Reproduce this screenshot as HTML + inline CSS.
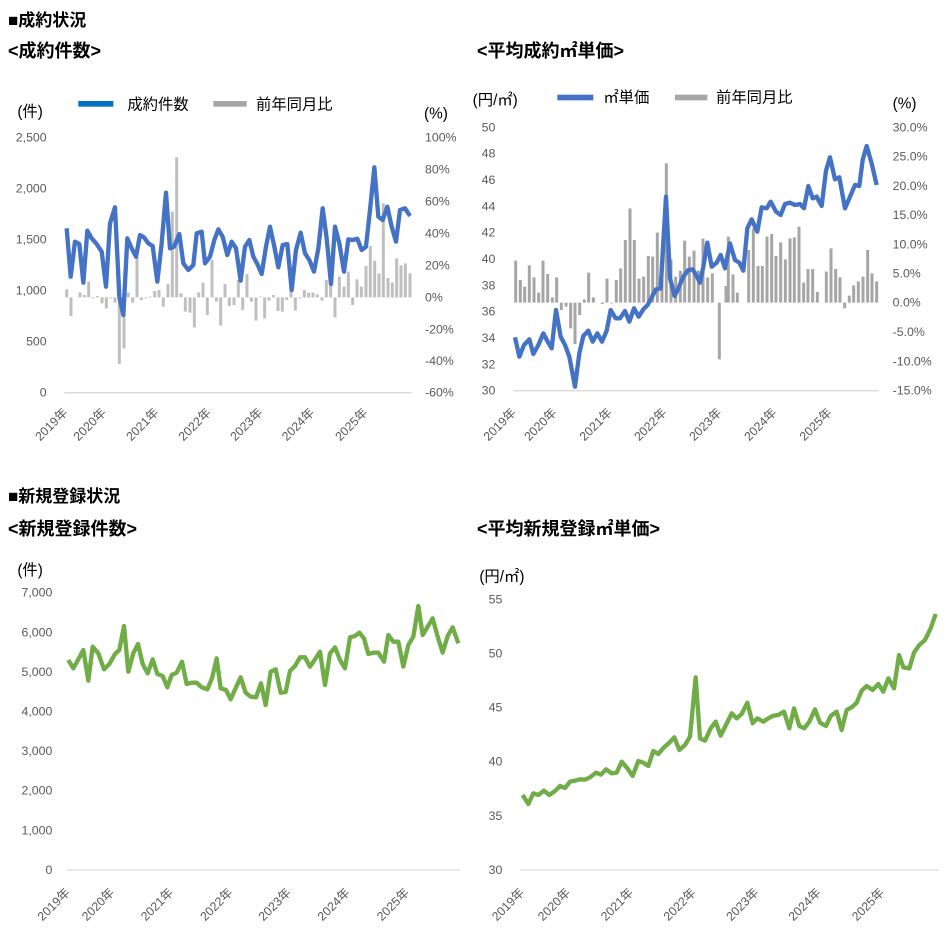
<!DOCTYPE html>
<html><head><meta charset="utf-8"><style>
html,body{margin:0;padding:0;background:#fff}
svg{display:block}
.t{font-family:"Liberation Sans","Noto Sans CJK JP",sans-serif;font-weight:bold;fill:#000}
.a{font-family:"Liberation Sans","Noto Sans CJK JP",sans-serif;fill:#595959;font-size:37px}
.l{font-family:"Liberation Sans","Noto Sans CJK JP",sans-serif;fill:#000;font-size:46px}
</style></head><body>
<svg width="950" height="942" viewBox="0 0 950 942" xmlns="http://www.w3.org/2000/svg">
<text class="t" x="8" y="26" font-size="17">■成約状況</text>
<text class="t" x="8" y="57" font-size="18">&lt;成約件数&gt;</text>
<text class="t" x="477" y="57" font-size="18">&lt;平均成約㎡単価&gt;</text>
<text class="t" x="8" y="502" font-size="17">■新規登録状況</text>
<text class="t" x="8" y="535" font-size="18">&lt;新規登録件数&gt;</text>
<text class="t" x="477" y="535" font-size="18">&lt;平均新規登録㎡単価&gt;</text>

<!-- Chart 1 -->
<g transform="translate(0,80) scale(0.33333)">
<line x1="193" y1="938" x2="1235" y2="938" stroke="#d9d9d9" stroke-width="4"/>
<path fill="none" stroke="#bfbfbf" stroke-width="9" d="M200 628V652M213 708V652M226 652V652M240 637V652M253 645V652M266 605V652M279 655V652M292 648V652M306 670V652M319 685V652M332 655V652M345 668V652M358 852V652M372 805V652M385 638V652M398 668V652M411 530V652M424 660V652M438 655V652M451 650V652M464 633V652M477 630V652M490 680V652M504 612V652M517 395V652M530 232V652M543 640V652M556 695V652M570 698V652M583 742V652M596 637V652M609 608V652M622 705V652M636 540V652M649 665V652M662 737V652M675 612V652M688 678V652M702 675V652M715 600V652M728 690V652M741 582V652M754 665V652M768 722V652M781 650V652M794 716V652M807 662V652M820 645V652M834 693V652M847 695V652M860 660V652M873 632V652M886 692V652M900 655V652M913 630V652M926 638V652M939 638V652M952 643V652M966 662V652M979 600V652M992 615V652M1005 712V652M1018 590V652M1032 620V652M1045 575V652M1058 675V652M1071 598V652M1084 620V652M1098 558V652M1111 498V652M1124 542V652M1137 580V652M1150 370V652M1164 594V652M1177 608V652M1190 535V652M1203 556V652M1216 550V652M1230 580V652"/>
<polyline fill="none" stroke="#4472c4" stroke-width="13" stroke-linejoin="round" points="200,445 212,590 225,485 238,492 250,608 262,452 275,475 290,492 305,515 318,620 330,430 345,382 358,650 370,705 382,475 395,505 408,530 420,465 432,472 445,490 458,498 472,605 485,490 498,338 510,505 522,500 538,462 550,550 565,570 580,555 590,460 605,455 615,550 630,530 643,480 655,448 668,470 682,525 695,485 708,505 722,602 735,500 748,480 760,530 772,552 785,582 798,500 810,440 823,500 835,562 848,495 862,492 875,630 888,510 902,458 915,520 928,540 942,575 955,505 968,385 980,475 993,612 1005,440 1018,490 1032,575 1045,478 1058,480 1072,476 1085,510 1098,500 1110,390 1123,262 1135,410 1148,420 1162,380 1175,440 1188,485 1200,390 1215,385 1230,408"/>
<g class="a" text-anchor="end" dominant-baseline="central">
<text x="140" y="172">2,500</text><text x="140" y="325">2,000</text><text x="140" y="478">1,500</text><text x="140" y="632">1,000</text><text x="140" y="785">500</text><text x="140" y="938">0</text>
</g>
<g class="a" dominant-baseline="central">
<text x="1275" y="172">100%</text><text x="1275" y="268">80%</text><text x="1275" y="364">60%</text><text x="1275" y="460">40%</text><text x="1275" y="556">20%</text><text x="1275" y="652">0%</text><text x="1275" y="748">-20%</text><text x="1275" y="843">-40%</text><text x="1275" y="938">-60%</text>
</g>
<text class="l" x="52" y="110">(件)</text>
<text class="l" x="1272" y="115">(%)</text>
<rect x="235" y="63" width="105" height="17" fill="#0070c0"/>
<text class="l" x="382" y="88">成約件数</text>
<rect x="640" y="63" width="100" height="17" fill="#a6a6a6"/>
<text class="l" x="768" y="88">前年同月比</text>
<g class="a" text-anchor="end">
<text transform="translate(205,1000) rotate(-45)">2019年</text>
<text transform="translate(320,1000) rotate(-45)">2020年</text>
<text transform="translate(478,1000) rotate(-45)">2021年</text>
<text transform="translate(635,1000) rotate(-45)">2022年</text>
<text transform="translate(790,1000) rotate(-45)">2023年</text>
<text transform="translate(945,1000) rotate(-45)">2024年</text>
<text transform="translate(1105,1000) rotate(-45)">2025年</text>
</g>
</g>

<!-- Chart 2 -->
<g transform="translate(470,80) scale(0.33333)">
<line x1="130" y1="932" x2="1225" y2="932" stroke="#d9d9d9" stroke-width="4"/>
<path fill="none" stroke="#a6a6a6" stroke-width="9" d="M137 542V668M151 600V668M164 620V668M178 556V668M192 592V668M206 638V668M219 542V668M233 582V668M247 652V668M260 592V668M274 690V668M288 680V668M302 745V668M315 792V668M329 705V668M343 658V668M356 578V668M370 652V668M384 668V668M397 672V668M411 596V668M425 670V668M439 600V668M452 565V668M466 480V668M480 385V668M493 480V668M507 596V668M521 590V668M535 528V668M548 530V668M562 458V668M576 508V668M589 250V668M603 538V668M617 590V668M631 572V668M644 482V668M658 530V668M672 512V668M685 572V668M699 476V668M713 592V668M727 580V668M748 838V668M768 618V668M775 470V668M789 583V668M802 638V668M818 668V668M836 510V668M850 445V668M864 558V668M877 558V668M891 470V668M905 462V668M918 528V668M932 487V668M946 538V668M960 475V668M973 472V668M987 440V668M1001 608V668M1014 567V668M1028 567V668M1042 636V668M1055 668V668M1069 575V668M1083 505V668M1097 567V668M1110 592V668M1124 685V668M1138 647V668M1151 616V668M1165 604V668M1179 590V668M1193 510V668M1206 580V668M1220 604V668"/>
<polyline fill="none" stroke="#4472c4" stroke-width="13" stroke-linejoin="round" points="135,772 148,830 162,795 178,778 190,822 205,795 220,760 233,785 245,805 258,690 272,770 285,795 298,830 315,920 328,820 340,768 355,752 368,785 382,760 396,785 410,752 422,690 437,715 450,715 465,693 478,725 492,685 506,710 520,688 533,675 545,652 558,628 572,625 588,350 600,595 614,648 625,625 640,590 655,570 668,568 680,588 690,608 700,560 712,488 725,560 740,548 752,525 765,565 780,490 795,540 808,548 820,572 832,445 845,418 862,455 875,382 890,385 902,365 918,395 932,405 945,372 960,368 975,375 990,372 1002,385 1015,318 1028,355 1040,350 1055,378 1068,272 1080,232 1095,298 1108,292 1125,385 1138,355 1155,315 1168,318 1178,240 1190,198 1205,250 1220,315"/>
<g class="a" text-anchor="end" dominant-baseline="central">
<text x="76" y="142">50</text><text x="76" y="221">48</text><text x="76" y="300">46</text><text x="76" y="379">44</text><text x="76" y="458">42</text><text x="76" y="537">40</text><text x="76" y="616">38</text><text x="76" y="695">36</text><text x="76" y="774">34</text><text x="76" y="853">32</text><text x="76" y="932">30</text>
</g>
<g class="a" dominant-baseline="central">
<text x="1268" y="142">30.0%</text><text x="1268" y="230">25.0%</text><text x="1268" y="318">20.0%</text><text x="1268" y="405">15.0%</text><text x="1268" y="493">10.0%</text><text x="1268" y="580">5.0%</text><text x="1268" y="668">0.0%</text><text x="1268" y="756">-5.0%</text><text x="1268" y="844">-10.0%</text><text x="1268" y="932">-15.0%</text>
</g>
<text class="l" x="8" y="75">(円/㎡)</text>
<text class="l" x="1268" y="85">(%)</text>
<rect x="262" y="44" width="108" height="17" fill="#4472c4"/>
<text class="l" x="400" y="68">㎡単価</text>
<rect x="615" y="44" width="97" height="17" fill="#a6a6a6"/>
<text class="l" x="738" y="68">前年同月比</text>
<g class="a" text-anchor="end">
<text transform="translate(140,1000) rotate(-45)">2019年</text>
<text transform="translate(262,1000) rotate(-45)">2020年</text>
<text transform="translate(428,1000) rotate(-45)">2021年</text>
<text transform="translate(592,1000) rotate(-45)">2022年</text>
<text transform="translate(757,1000) rotate(-45)">2023年</text>
<text transform="translate(922,1000) rotate(-45)">2024年</text>
<text transform="translate(1088,1000) rotate(-45)">2025年</text>
</g>
</g>

<!-- Chart 3 -->
<g transform="translate(0,560) scale(0.33333)">
<line x1="200" y1="930" x2="1380" y2="930" stroke="#d9d9d9" stroke-width="4"/>
<polyline fill="none" stroke="#70ad47" stroke-width="13" stroke-linejoin="round" points="205,300 220,325 235,298 250,270 265,362 278,260 295,280 312,328 328,312 345,282 358,270 372,198 385,335 400,280 414,252 428,312 443,340 458,298 472,342 488,348 502,382 515,345 530,338 546,305 560,372 575,368 590,368 605,382 622,388 636,355 650,295 662,385 678,390 692,418 708,382 722,352 737,398 752,410 768,412 783,370 797,435 812,335 827,328 842,398 857,396 870,333 885,318 900,292 915,292 930,320 945,298 960,275 975,375 990,280 1005,262 1020,300 1035,325 1050,232 1065,228 1078,218 1092,235 1105,282 1120,278 1135,278 1152,305 1165,225 1180,245 1195,245 1210,320 1225,255 1240,230 1255,138 1268,225 1283,200 1298,175 1313,230 1328,278 1343,228 1358,202 1375,250"/>
<g class="a" text-anchor="end" dominant-baseline="central">
<text x="157" y="98">7,000</text><text x="157" y="217">6,000</text><text x="157" y="336">5,000</text><text x="157" y="455">4,000</text><text x="157" y="573">3,000</text><text x="157" y="692">2,000</text><text x="157" y="811">1,000</text><text x="157" y="930">0</text>
</g>
<text class="l" x="52" y="45">(件)</text>
<g class="a" text-anchor="end">
<text transform="translate(212,1000) rotate(-45)">2019年</text>
<text transform="translate(345,1000) rotate(-45)">2020年</text>
<text transform="translate(522,1000) rotate(-45)">2021年</text>
<text transform="translate(700,1000) rotate(-45)">2022年</text>
<text transform="translate(875,1000) rotate(-45)">2023年</text>
<text transform="translate(1052,1000) rotate(-45)">2024年</text>
<text transform="translate(1230,1000) rotate(-45)">2025年</text>
</g>
</g>

<!-- Chart 4 -->
<g transform="translate(470,560) scale(0.33333)">
<line x1="150" y1="930" x2="1405" y2="930" stroke="#d9d9d9" stroke-width="4"/>
<polyline fill="none" stroke="#70ad47" stroke-width="13" stroke-linejoin="round" points="158,705 175,732 190,700 205,705 222,692 238,705 255,693 270,678 285,684 300,665 315,662 330,658 345,659 360,652 378,638 393,644 408,628 425,640 440,638 455,605 472,625 488,648 505,603 520,608 535,618 550,573 565,582 582,562 598,548 613,532 628,570 645,555 660,530 677,352 690,535 705,542 722,505 737,485 752,527 768,495 785,460 800,475 815,462 832,428 848,490 862,475 880,485 895,475 910,467 925,465 942,455 958,505 972,445 988,498 1003,505 1018,485 1035,448 1050,488 1068,498 1082,468 1100,455 1115,510 1130,450 1145,442 1160,428 1175,392 1190,378 1208,390 1225,372 1240,395 1255,355 1272,385 1287,285 1300,322 1318,325 1332,278 1348,255 1365,240 1382,205 1397,162"/>
<g class="a" text-anchor="end" dominant-baseline="central">
<text x="97" y="118">55</text><text x="97" y="280">50</text><text x="97" y="443">45</text><text x="97" y="605">40</text><text x="97" y="768">35</text><text x="97" y="930">30</text>
</g>
<text class="l" x="28" y="65">(円/㎡)</text>
<g class="a" text-anchor="end">
<text transform="translate(165,1000) rotate(-45)">2019年</text>
<text transform="translate(303,1000) rotate(-45)">2020年</text>
<text transform="translate(492,1000) rotate(-45)">2021年</text>
<text transform="translate(680,1000) rotate(-45)">2022年</text>
<text transform="translate(868,1000) rotate(-45)">2023年</text>
<text transform="translate(1055,1000) rotate(-45)">2024年</text>
<text transform="translate(1245,1000) rotate(-45)">2025年</text>
</g>
</g>
</svg>
</body></html>
